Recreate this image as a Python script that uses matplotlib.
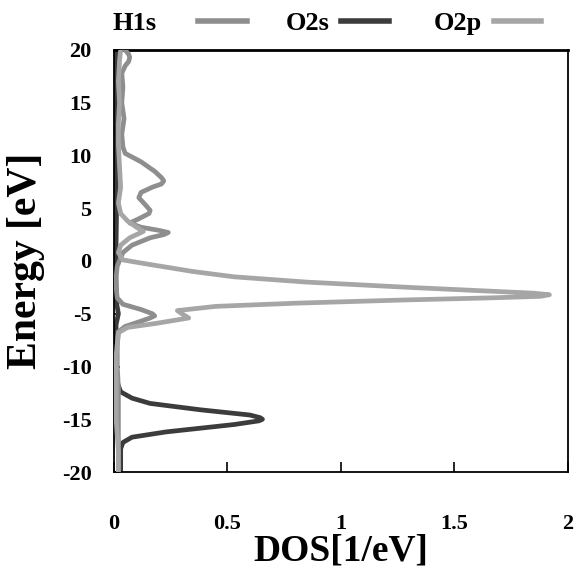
import matplotlib as mp
mp.use('Agg')
import matplotlib.pyplot as plt

# energy grids and DOS values
h1s_e = [20, 19.6, 19.3, 18.9, 18.5, 17.8, 16.5, 15, 13.5, 12, 10.8, 10.2, 9.4, 8.5, 7.9, 7.6,
         7.3, 7.0, 6.5, 6.0, 5.3, 4.8, 4.5, 4.0, 3.6, 3.2, 2.9, 2.7, 2.5, 2.2, 1.5, 0.8, 0.3,
         -0.5, -1.5, -2.5, -3.5, -4.1, -4.6, -5.0, -5.2, -5.4, -5.7, -6.2, -6.7, -8, -10, -12,
         -14, -16, -18, -20]
h1s_dos = [0.05, 0.065, 0.07, 0.065, 0.05, 0.035, 0.04, 0.035, 0.045, 0.035, 0.04, 0.05, 0.12,
           0.18, 0.21, 0.22, 0.21, 0.17, 0.12, 0.11, 0.14, 0.16, 0.155, 0.11, 0.07, 0.12, 0.2,
           0.24, 0.22, 0.16, 0.08, 0.04, 0.03, 0.015, 0.01, 0.01, 0.015, 0.04, 0.12, 0.17,
           0.18, 0.16, 0.12, 0.05, 0.02, 0.015, 0.015, 0.02, 0.02, 0.02, 0.02, 0.02]

o2s_e = [20, 17, 14, 11, 8, 5, 2, -1, -4, -5, -6, -8, -10, -11.5, -12.4, -13.0, -13.5, -14.1,
         -14.6, -14.85, -15.0, -15.15, -15.5, -16.2, -16.7, -17.2, -17.8, -19, -20]
o2s_dos = [0.01, 0.012, 0.01, 0.012, 0.01, 0.012, 0.01, 0.008, 0.012, 0.02, 0.01, 0.008, 0.01,
           0.015, 0.03, 0.08, 0.16, 0.38, 0.6, 0.645, 0.655, 0.64, 0.53, 0.23, 0.08, 0.04,
           0.03, 0.03, 0.03]

o2p_e = [20, 19, 17, 15, 13, 11, 9, 7, 5.5, 4.5, 3.8, 3.2, 2.8, 2.2, 1.5, 0.8, 0.1, -0.3, -1.0,
         -1.5, -2.0, -2.5, -2.9, -3.05, -3.2, -3.35, -3.5, -3.7, -4.0, -4.3, -4.7, -5.0, -5.4,
         -5.9, -6.3, -6.8, -9, -12, -15, -18, -20]
o2p_dos = [0.03, 0.025, 0.02, 0.025, 0.02, 0.02, 0.025, 0.03, 0.02, 0.03, 0.06, 0.1, 0.13,
           0.07, 0.03, 0.02, 0.04, 0.15, 0.35, 0.53, 0.85, 1.3, 1.7, 1.85, 1.92, 1.88, 1.65,
           1.27, 0.8, 0.45, 0.28, 0.3, 0.33, 0.19, 0.06, 0.02, 0.01, 0.01, 0.01, 0.02, 0.02]

labels = ['H1s', 'O2s', 'O2p']
colors = ['#8e8e8e', '#3c3c3c', '#a6a6a6']
yticks = list(range(-20, 21, 5))

plt.rcParams['font.family'] = ['Liberation Serif', 'DejaVu Serif']
plt.rcParams['font.weight'] = 'bold'

fig = plt.figure(figsize=(5.75, 5.68), dpi=100)
ax = fig.add_axes([0.198, 0.169, 0.789, 0.743])

l1, = ax.plot(h1s_dos, h1s_e, color=colors[0], lw=3.4, label=labels[0], zorder=3,
              solid_joinstyle='round')
l2, = ax.plot(o2s_dos, o2s_e, color=colors[1], lw=3.4, label=labels[1], zorder=2,
              solid_joinstyle='round')
l3, = ax.plot(o2p_dos, o2p_e, color=colors[2], lw=3.4, label=labels[2], zorder=4,
              solid_joinstyle='round')

ax.set_xlim(0, 2)
ax.set_ylim(-20, 20)
ax.set_xticks([0, 0.5, 1, 1.5, 2])
ax.set_xticklabels(['0', '0.5', '1', '1.5', '2'])
ax.set_yticks(yticks)
ax.set_yticklabels([str(v) for v in yticks])
ax.tick_params(axis='x', direction='in', length=7, width=1.2, pad=30, labelsize=16)
ax.tick_params(axis='y', direction='in', length=4, width=1.2, pad=16, labelsize=16)
for s in ax.spines.values():
    s.set_linewidth(1.3)
ax.spines['top'].set_linewidth(2)

ax.set_xlabel('DOS[1/eV]', fontsize=27, fontweight='bold', labelpad=0)
ax.set_ylabel('Energy [eV]', fontsize=30, fontweight='bold', labelpad=12)

# legend: H1s on its own (wider gap before its bar), then O2s and O2p
leg_kw = dict(loc='lower left', frameon=False, markerfirst=False, fontsize=19,
              borderaxespad=0.0, borderpad=0.0)
leg1 = ax.legend(handles=[l1], bbox_to_anchor=(-0.004, 1.035), handlelength=1.85,
                 handletextpad=1.6, **leg_kw)
ax.add_artist(leg1)
leg2 = ax.legend(handles=[l2, l3], bbox_to_anchor=(0.378, 1.035), ncol=2,
                 handlelength=1.8, handletextpad=0.45, columnspacing=1.7, **leg_kw)
for lg in (leg1, leg2):
    for h in lg.get_lines():
        h.set_linewidth(4)

fig.savefig('out.png', dpi=100)
